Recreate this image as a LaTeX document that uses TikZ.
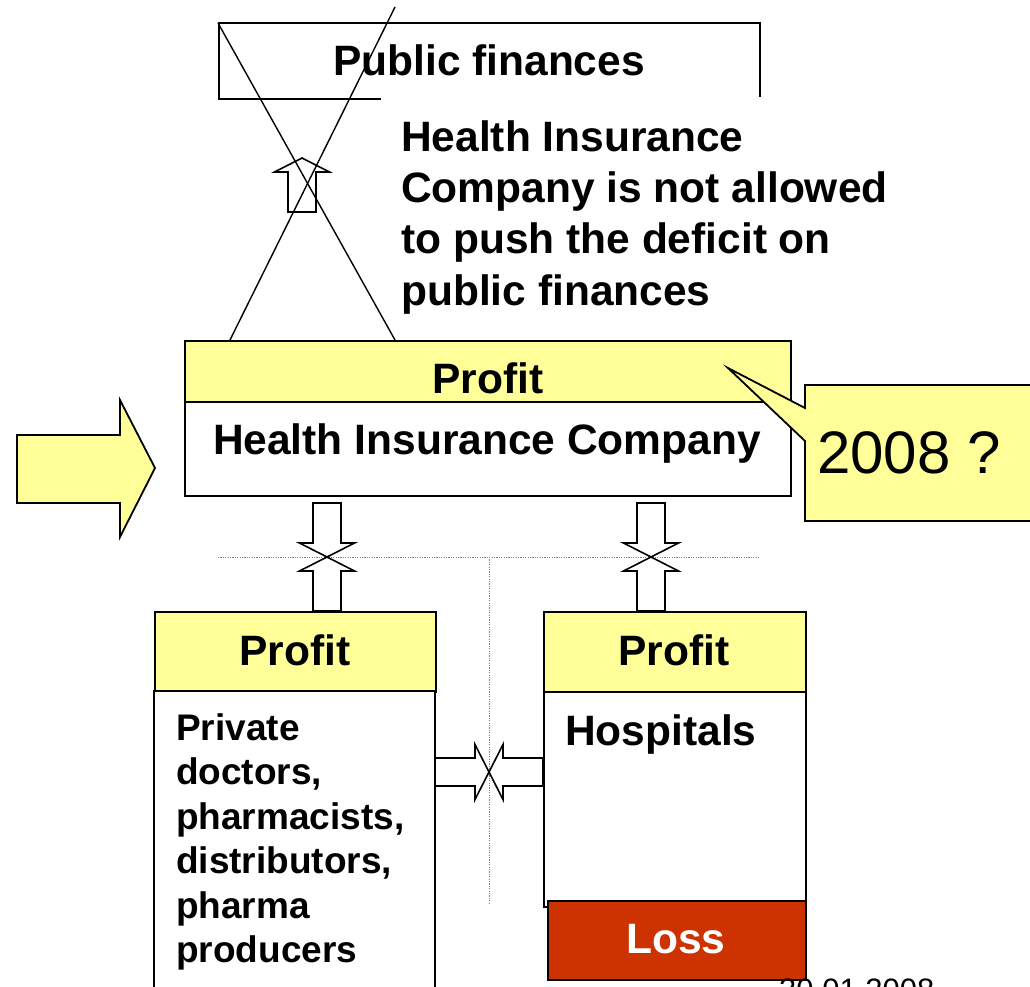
\documentclass[tikz,border=0pt]{standalone}
\usepackage{fontspec}
\setmainfont{Liberation Sans}
\definecolor{pyellow}{HTML}{FFFF99}
\definecolor{lossred}{HTML}{CC3300}
\begin{document}
\begin{tikzpicture}[x=1pt,y=-1pt,
  boxline/.style={draw=black, line width=1.8pt},
  hdr/.style={boxline, fill=pyellow},
  body/.style={boxline, fill=white},
  bigtxt/.style={inner sep=0pt, font=\fontsize{42.5pt}{51pt}\selectfont\bfseries},
  midtxt/.style={inner sep=0pt, font=\fontsize{37pt}{44.5pt}\selectfont\bfseries},
  thinline/.style={draw=black, line width=1.4pt},
  dotline/.style={draw=gray, line width=0.9pt, dash pattern=on 1.2pt off 1.2pt},
  blockarrow/.pic={\draw[line width=1.6pt, fill=white, line join=miter]
      (0,0) -- (14,-27.5) -- (14,-14) -- (54,-14) -- (54,14) -- (14,14) -- (14,27.5) -- cycle;}
]
\useasboundingbox (0,0) rectangle (1030,986);

% dotted guide lines
\coordinate (dl1) at (218,557);
\coordinate (dl2) at (760,557);
\coordinate (dv1) at (489,557);
\coordinate (dv2) at (489,905);
\draw[dotline] (dl1) -- (dl2);
\draw[dotline] (dv1) -- (dv2);

% Public finances box
\node[boxline, fill=white, anchor=north west, minimum width=541pt, minimum height=76pt, inner sep=0pt] (pf) at (218,22) {};
\node[bigtxt, anchor=base] (pft) at (489,75) {Public finances};

% white text area covering part of the box bottom
\fill[white] (381,97) rectangle (770,320);
\node[bigtxt, anchor=base west] (hi1) at (401,151) {Health Insurance};
\node[bigtxt, anchor=base west] (hi2) at (401,202) {Company is not allowed};
\node[bigtxt, anchor=base west] (hi3) at (401,253) {to push the deficit on};
\node[bigtxt, anchor=base west] (hi4) at (401,305) {public finances};

% small up arrow
\pic[rotate=-90] at (302,158) {blockarrow};

% Health insurance company box
\node[hdr, anchor=north west, minimum width=606pt, minimum height=61pt, inner sep=0pt] (hich) at (184,340) {};
\node[body, anchor=north west, minimum width=606pt, minimum height=94pt, inner sep=0pt] (hicb) at (184,401) {};
\node[bigtxt, anchor=base] (hicht) at (488,393) {Profit};
\node[bigtxt, anchor=base] (hicbt) at (487,454) {Health Insurance Company};

% cross lines
\coordinate (c1a) at (218,23);
\coordinate (c1b) at (395,340);
\coordinate (c2a) at (395,7);
\coordinate (c2b) at (230,340);
\draw[thinline] (c1a) -- (c1b);
\draw[thinline] (c2a) -- (c2b);

% big yellow arrow
\draw[line width=1.8pt, fill=pyellow, line join=miter]
  (17,435) -- (120,435) -- (120,400) -- (155,468) -- (120,537) -- (120,503) -- (17,503) -- cycle;

% callout
\coordinate (ctip) at (728,368);
\draw[line width=1.8pt, fill=pyellow, line join=miter]
  (805,385) -- (1040,385) -- (1040,521) -- (805,521) -- (805,441) -- (ctip) -- (805,408) -- cycle;
\node[inner sep=0pt, anchor=base west, font=\fontsize{60pt}{70pt}\selectfont] (yr) at (817,473) {2008 ?};

% left bottom box
\node[hdr, anchor=north west, minimum width=281pt, minimum height=80pt, inner sep=0pt] (lh) at (154,611) {};
\draw[body] (154,691) rectangle (435,1000);
\node[bigtxt, anchor=base] (lht) at (295,665) {Profit};
\node[midtxt, anchor=base west] (l1) at (176,740) {Private};
\node[midtxt, anchor=base west] (l2) at (176,784.5) {doctors,};
\node[midtxt, anchor=base west] (l3) at (176,829) {pharmacists,};
\node[midtxt, anchor=base west] (l4) at (176,873.5) {distributors,};
\node[midtxt, anchor=base west] (l5) at (176,918) {pharma};
\node[midtxt, anchor=base west] (l6) at (176,962.5) {producers};

% right bottom box
\node[hdr, anchor=north west, minimum width=262pt, minimum height=80pt, inner sep=0pt] (rh) at (543,611) {};
\node[body, anchor=north west, minimum width=262pt, minimum height=215pt, inner sep=0pt] (rb) at (543,691) {};
\node[bigtxt, anchor=base] (rht) at (674,665) {Profit};
\node[bigtxt, anchor=base west] (hosp) at (565,745) {Hospitals};
\node[boxline, fill=lossred, anchor=north west, minimum width=258pt, minimum height=79pt, inner sep=0pt] (loss) at (547,900) {};
\node[bigtxt, anchor=base, text=white] (losst) at (676,953) {Loss};

% double block arrows
\pic[rotate=90] at (327,557) {blockarrow};
\pic[rotate=-90] at (327,557) {blockarrow};
\pic[rotate=90] at (651,557) {blockarrow};
\pic[rotate=-90] at (651,557) {blockarrow};
\pic[rotate=180] at (489,772) {blockarrow};
\pic at (489,772) {blockarrow};

% date
\node[inner sep=0pt, anchor=base west, font=\fontsize{31pt}{36pt}\selectfont] (date) at (779,1000) {30.01.2008};
\end{tikzpicture}
\end{document}
